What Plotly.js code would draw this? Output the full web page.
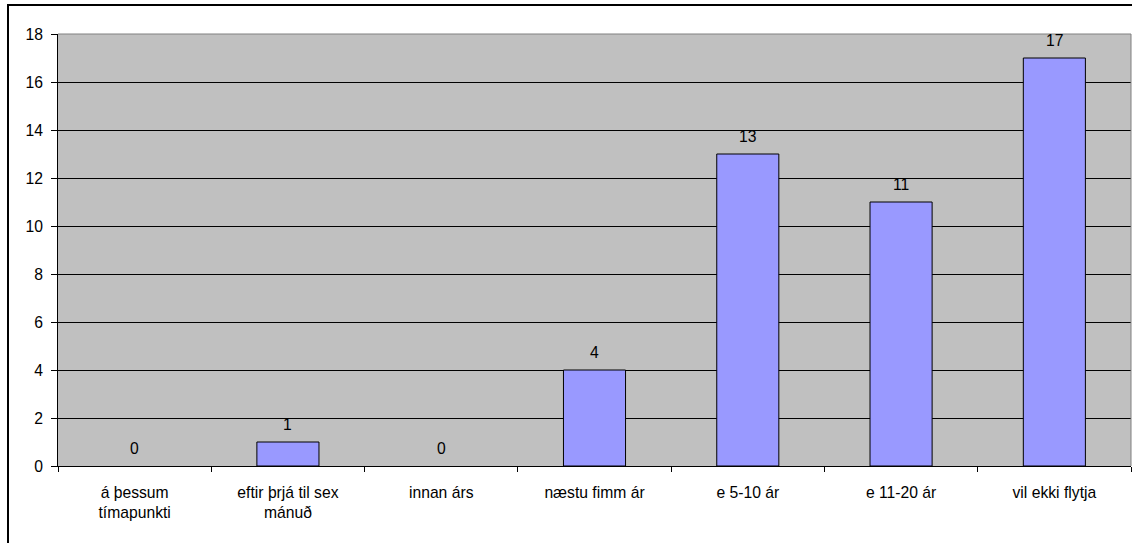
<!DOCTYPE html>
<html>
<head>
<meta charset="utf-8">
<script src="https://cdn.plot.ly/plotly-3.0.1.min.js"></script>
<style>
html,body{margin:0;padding:0;background:#fff;}
#wrap{position:relative;width:1132px;height:543px;}
#chart{width:1132px;height:543px;}
#frame{position:absolute;left:7px;top:4px;width:1140px;height:560px;border-left:2px solid #000;border-top:2px solid #000;pointer-events:none;}
</style>
</head>
<body>
<div id="wrap"><div id="chart"></div><div id="frame"></div></div>
<script>
const categories = ["á þessum<br>tímapunkti", "eftir þrjá til sex<br>mánuð", "innan árs", "næstu fimm ár", "e 5-10 ár", "e 11-20 ár", "vil ekki flytja"];
const values = [0, 1, 0, 4, 13, 11, 17];
const yTicks = [0, 2, 4, 6, 8, 10, 12, 14, 16, 18];

const font = {family: "Liberation Sans, Arial, sans-serif", size: 15.7, color: "#000"};

const trace = {
  type: "bar",
  x: categories,
  y: values,
  width: 0.405,
  marker: {color: "#9999FF", line: {color: "#000", width: values.map(v => v === 0 ? 0 : 1)}},
  hoverinfo: "skip"
};

const annotations = categories.map((c, i) => ({
  x: c, y: values[i], xref: "x", yref: "y",
  text: String(values[i]), showarrow: false,
  yanchor: "bottom", yshift: 7, font: font
}));

const layout = {
  width: 1132, height: 543,
  margin: {l: 58, r: 1, t: 34, b: 77, pad: 0},
  paper_bgcolor: "#fff",
  plot_bgcolor: "#C0C0C0",
  showlegend: false,
  font: font,
  bargap: 0,
  xaxis: {
    type: "category",
    tickson: "boundaries",
    ticks: "outside", ticklen: 5, tickcolor: "#000", tickwidth: 1,
    ticklabelstandoff: 12,
    showline: true, linecolor: "#000", linewidth: 1,
    showgrid: false, zeroline: false,
    tickfont: font, fixedrange: true
  },
  yaxis: {
    range: [0, 18],
    tickvals: yTicks,
    ticktext: yTicks.map(String),
    ticks: "outside", ticklen: 6, tickcolor: "#000", tickwidth: 1,
    ticklabelstandoff: 5,
    showline: true, linecolor: "#000", linewidth: 1,
    showgrid: true, gridcolor: "#000", gridwidth: 1,
    zeroline: false,
    tickfont: font, fixedrange: true
  },
  annotations: annotations,
  shapes: [
    {type: "line", xref: "paper", yref: "paper", x0: 0, x1: 1, y0: 1, y1: 1, line: {color: "#808080", width: 1}},
    {type: "line", xref: "paper", yref: "paper", x0: 1, x1: 1, y0: 0, y1: 1, line: {color: "#808080", width: 1}}
  ]
};

Plotly.newPlot("chart", [trace], layout, {displayModeBar: false, staticPlot: true});
</script>
</body>
</html>
